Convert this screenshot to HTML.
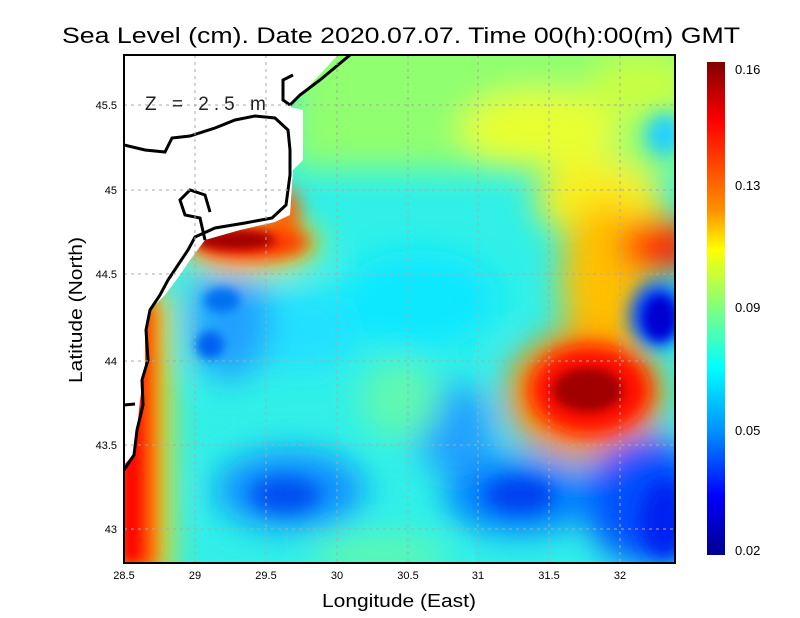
<!DOCTYPE html>
<html><head><style>body{margin:0;background:#fff}svg{display:block}</style></head><body>
<svg width="800" height="618" viewBox="0 0 800 618" xmlns="http://www.w3.org/2000/svg" font-family="Liberation Sans, sans-serif">
<defs>
<clipPath id="pc"><rect x="124" y="55" width="551" height="508"/></clipPath>
<filter id="b1" filterUnits="userSpaceOnUse" x="0" y="0" width="800" height="618"><feGaussianBlur stdDeviation="16"/></filter>
<filter id="b2" filterUnits="userSpaceOnUse" x="0" y="0" width="800" height="618"><feGaussianBlur stdDeviation="9"/></filter>
<filter id="b3" filterUnits="userSpaceOnUse" x="0" y="0" width="800" height="618"><feGaussianBlur stdDeviation="5"/></filter>
<linearGradient id="cb" x1="0" y1="0" x2="0" y2="1">
<stop offset="0" stop-color="#800000"/><stop offset="0.12" stop-color="#ff0000"/><stop offset="0.3" stop-color="#ff9000"/><stop offset="0.38" stop-color="#ffff00"/><stop offset="0.5" stop-color="#80ff80"/><stop offset="0.62" stop-color="#00ffff"/><stop offset="0.75" stop-color="#0090ff"/><stop offset="0.88" stop-color="#0000ff"/><stop offset="1" stop-color="#000090"/>
</linearGradient>
</defs>
<g clip-path="url(#pc)">
<rect x="124" y="55" width="551" height="508" fill="#30f0e8"/>
<g filter="url(#b1)">
<rect x="290" y="20" width="420" height="150" fill="#90ff70"/>
<ellipse cx="300" cy="330" rx="60" ry="40" fill="#20e0ff"/>
<ellipse cx="420" cy="300" rx="80" ry="50" fill="#10e8ff"/>
<ellipse cx="540" cy="130" rx="80" ry="40" fill="#e8ff30"/>
<ellipse cx="640" cy="85" rx="50" ry="30" fill="#c8ff40"/>
<ellipse cx="600" cy="200" rx="65" ry="40" fill="#f8f020"/>
<ellipse cx="605" cy="280" rx="45" ry="80" fill="#ffc000"/>
<ellipse cx="660" cy="245" rx="40" ry="28" fill="#ff2000"/>
<ellipse cx="585" cy="395" rx="80" ry="65" fill="#ff9000"/>
<ellipse cx="645" cy="500" rx="60" ry="65" fill="#0050ff"/>
<ellipse cx="520" cy="495" rx="75" ry="40" fill="#0080ff"/>
<ellipse cx="455" cy="430" rx="40" ry="45" fill="#20a0ff"/>
<ellipse cx="290" cy="490" rx="75" ry="40" fill="#1090ff"/>
<ellipse cx="230" cy="320" rx="40" ry="60" fill="#20a0ff"/>
<ellipse cx="400" cy="400" rx="40" ry="40" fill="#60f8b0"/>
<ellipse cx="380" cy="555" rx="70" ry="20" fill="#60f8b0"/>
<ellipse cx="250" cy="245" rx="70" ry="28" fill="#ffe000"/>
<rect x="110" y="290" width="60" height="290" fill="#ffd000"/>
</g>
<g filter="url(#b2)">
<ellipse cx="665" cy="135" rx="20" ry="22" fill="#20d0ff"/>
<ellipse cx="590" cy="390" rx="60" ry="45" fill="#ff1000"/>
<ellipse cx="658" cy="315" rx="28" ry="32" fill="#0040ff"/>
<ellipse cx="250" cy="242" rx="60" ry="18" fill="#ff2000"/>
<ellipse cx="285" cy="212" rx="15" ry="25" fill="#ff6000"/>
<rect x="118" y="300" width="36" height="270" fill="#ff3000"/>
<ellipse cx="520" cy="495" rx="35" ry="18" fill="#0040f0"/>
<ellipse cx="285" cy="495" rx="35" ry="18" fill="#0050f0"/>
<ellipse cx="665" cy="520" rx="25" ry="40" fill="#0020f0"/>
</g>
<g filter="url(#b3)">
<ellipse cx="588" cy="390" rx="35" ry="22" fill="#a00000"/>
<ellipse cx="660" cy="318" rx="16" ry="22" fill="#0000d0"/>
<ellipse cx="235" cy="240" rx="40" ry="10" fill="#a00000"/>
<ellipse cx="210" cy="345" rx="14" ry="14" fill="#0060f0"/>
<ellipse cx="222" cy="300" rx="18" ry="12" fill="#0070f0"/>
<rect x="124" y="310" width="14" height="250" fill="#ff0000"/>
</g>
<polygon points="283,78 296,78 296,100 283,100" fill="#90ff60"/>
<polygon fill="#fff" points="124,55 338,55 296,100 290,107 303,110 303,160 293,170 290,215 275,222 240,230 205,240 190,260 180,275 165,295 150,310 145,330 145,370 140,400 137,430 133,455 124,465"/>
<g fill="none" stroke="#000" stroke-width="3">
<polyline points="124,145 145,150 165,152 172,138 190,136 215,128 235,120 255,116 275,118 288,130 290,150 290,175 286,205 272,218 245,223 215,228 195,237 188,250 178,265 168,280 160,295 150,310 146,330 148,360 142,380 143,405 137,430 134,455 124,470"/>
<polyline points="124,405 135,404"/>
<polyline points="290,105 300,95 320,80 350,55"/>
<polyline points="290,105 283,100 283,80 293,75"/>
<polyline points="205,240 200,218 185,215 180,200 190,190 205,195 210,212"/>
</g>
</g>
<g stroke="#aaa" stroke-dasharray="3,4" stroke-width="1">
<line x1="195" y1="55" x2="195" y2="563"/><line x1="266" y1="55" x2="266" y2="563"/><line x1="337" y1="55" x2="337" y2="563"/><line x1="408" y1="55" x2="408" y2="563"/><line x1="478" y1="55" x2="478" y2="563"/><line x1="549" y1="55" x2="549" y2="563"/><line x1="620" y1="55" x2="620" y2="563"/>
<line x1="124" y1="529" x2="675" y2="529"/><line x1="124" y1="445" x2="675" y2="445"/><line x1="124" y1="361" x2="675" y2="361"/><line x1="124" y1="274" x2="675" y2="274"/><line x1="124" y1="190" x2="675" y2="190"/><line x1="124" y1="105" x2="675" y2="105"/>
</g>
<text x="145" y="110" font-size="19" fill="#222" letter-spacing="5">Z = 2.5 m</text>
<rect x="124" y="55" width="551" height="508" fill="none" stroke="#000" stroke-width="2"/>
<g font-size="11" fill="#000">
<text x="124" y="579" text-anchor="middle">28.5</text><text x="195" y="579" text-anchor="middle">29</text><text x="266" y="579" text-anchor="middle">29.5</text><text x="337" y="579" text-anchor="middle">30</text><text x="408" y="579" text-anchor="middle">30.5</text><text x="478" y="579" text-anchor="middle">31</text><text x="549" y="579" text-anchor="middle">31.5</text><text x="620" y="579" text-anchor="middle">32</text>
<text x="117" y="533" text-anchor="end">43</text><text x="117" y="449" text-anchor="end">43.5</text><text x="117" y="365" text-anchor="end">44</text><text x="117" y="278" text-anchor="end">44.5</text><text x="117" y="194" text-anchor="end">45</text><text x="117" y="109" text-anchor="end">45.5</text>
</g>
<text x="322" y="607" font-size="18" textLength="154" lengthAdjust="spacingAndGlyphs">Longitude (East)</text>
<text x="82" y="383" font-size="18" textLength="146" lengthAdjust="spacingAndGlyphs" transform="rotate(-90 82 383)">Latitude (North)</text>
<text x="62" y="43" font-size="22" textLength="678" lengthAdjust="spacingAndGlyphs">Sea Level (cm). Date 2020.07.07. Time 00(h):00(m) GMT</text>
<rect x="707" y="62" width="18" height="493" fill="url(#cb)"/>
<g font-size="13"><text x="735" y="74">0.16</text><text x="735" y="190">0.13</text><text x="735" y="312">0.09</text><text x="735" y="435">0.05</text><text x="735" y="555">0.02</text></g>
</svg>
</body></html>
